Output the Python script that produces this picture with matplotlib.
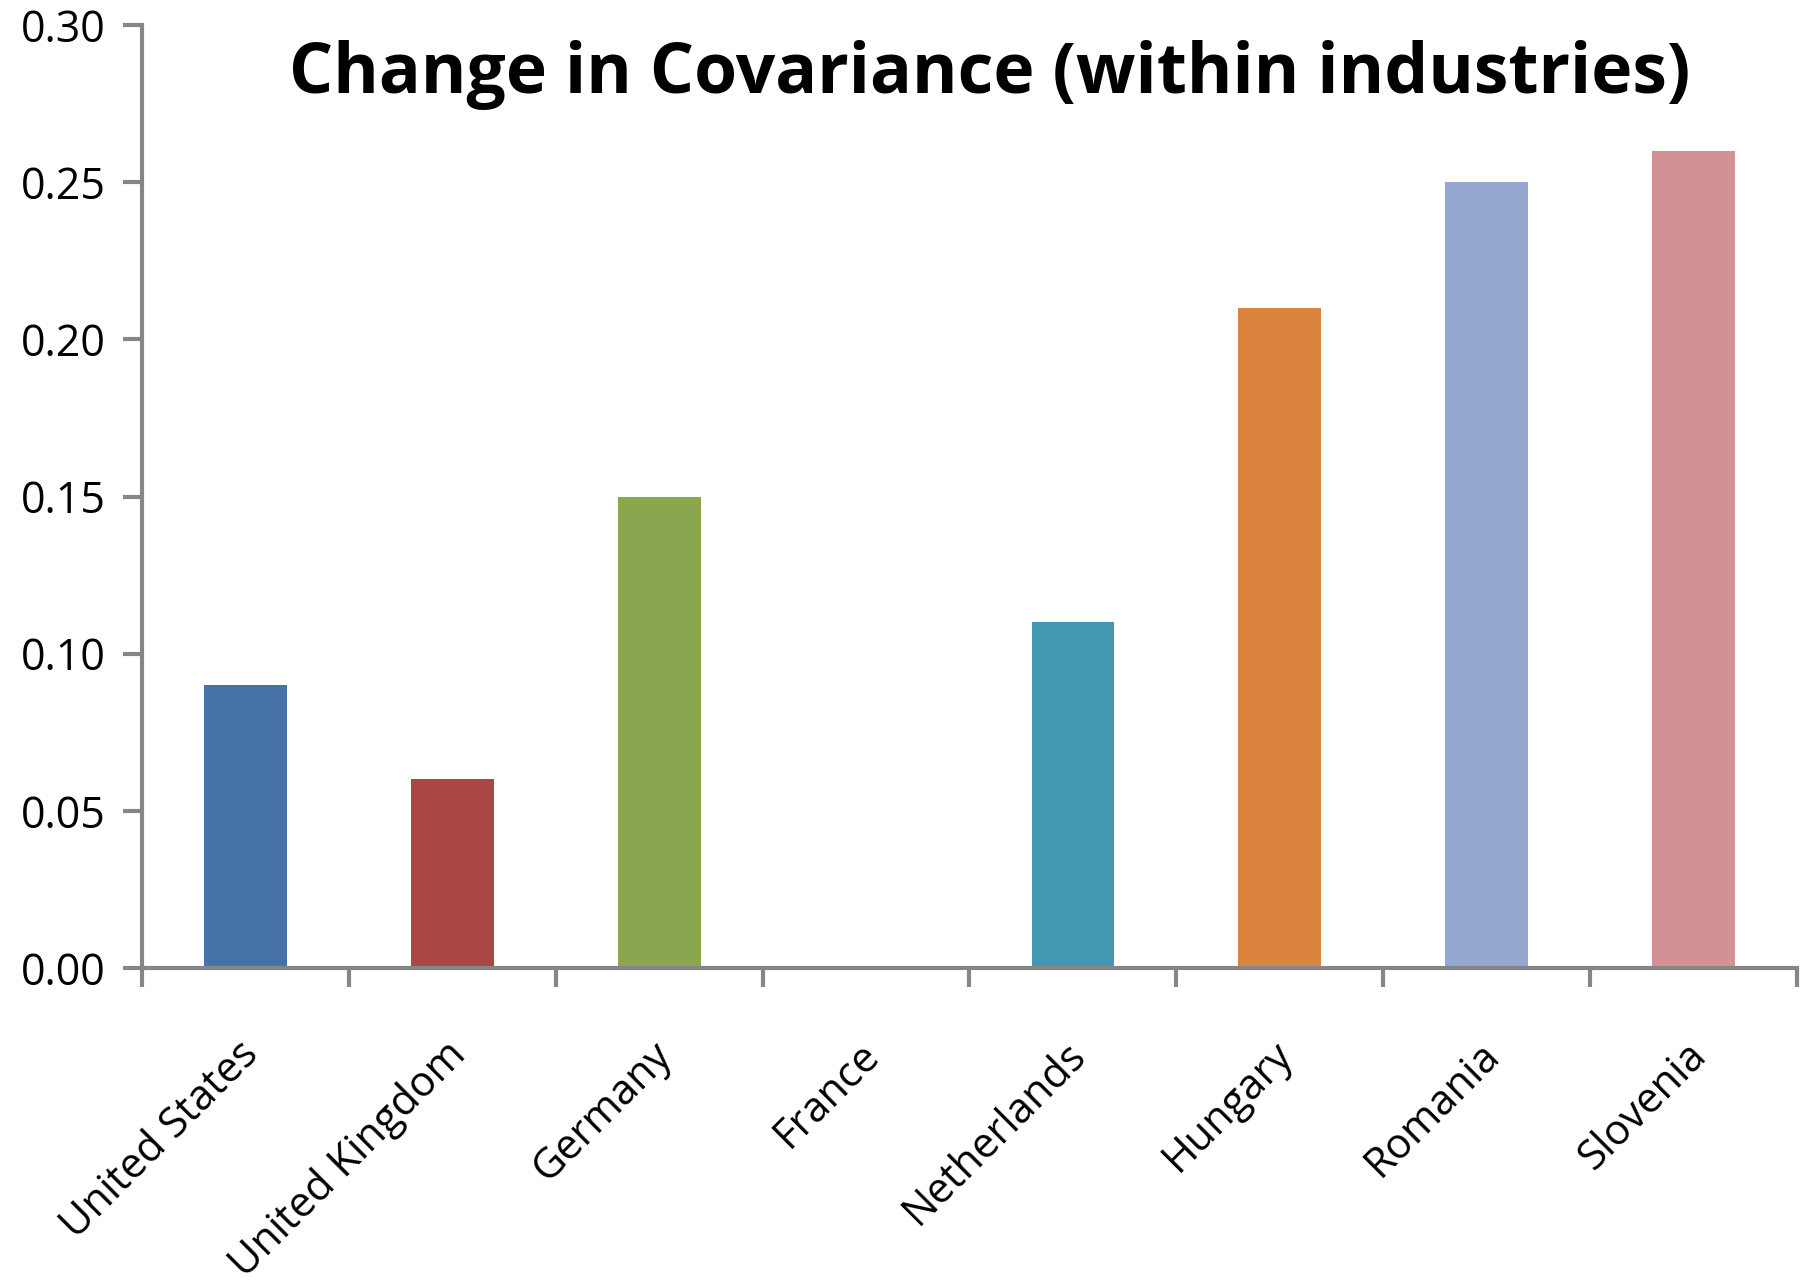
import matplotlib
matplotlib.use("Agg")
from matplotlib import pyplot as plt
from matplotlib.transforms import ScaledTranslation
import numpy as np

countries = ["United States", "United Kingdom", "Germany", "France",
             "Netherlands", "Hungary", "Romania", "Slovenia"]
values = [0.09, 0.06, 0.15, 0.0, 0.11, 0.21, 0.25, 0.26]
colors = ["#4672A8", "#AA4744", "#8AA64E", "#7C6497",
          "#4399B1", "#DB843E", "#95A9D0", "#D29192"]
yticks = [0.00, 0.05, 0.10, 0.15, 0.20, 0.25, 0.30]

plt.rcParams['font.family'] = ['Open Sans', 'DejaVu Sans']
gray = "#868686"

fig = plt.figure(figsize=(18.16, 12.83), dpi=100)
ax = fig.add_axes([0.0782, 0.2455, 0.9113, 0.735])

x = np.arange(len(countries))
ax.bar(x, values, width=0.40, color=colors)

ax.set_xlim(-0.5, len(countries) - 0.5)
ax.set_ylim(0, 0.30)
ax.set_yticks(yticks)
ax.set_yticklabels(["%.2f" % v for v in yticks], fontsize=31)

ax.set_xticks(x)
ax.set_xticklabels(countries, fontsize=30, rotation=45, ha='right',
                   va='center', rotation_mode='anchor')
ax.set_xticks(np.arange(-0.5, len(countries)), minor=True)
ax.tick_params(axis='x', which='major', length=0, pad=58)
ax.tick_params(axis='x', which='minor', length=14, width=3, color=gray)
ax.tick_params(axis='y', length=14, width=3, color=gray, pad=12)

# nudge the rotated labels a little to the right
shift = ScaledTranslation(0.07, 0, fig.dpi_scale_trans)
for lbl in ax.get_xticklabels():
    lbl.set_transform(lbl.get_transform() + shift)

for s in ['top', 'right']:
    ax.spines[s].set_visible(False)
for s in ['left', 'bottom']:
    ax.spines[s].set_color(gray)
    ax.spines[s].set_linewidth(3)

ax.text(0.512, 0.928, "Change in Covariance (within industries)",
        transform=ax.transAxes, ha='center', va='baseline',
        fontsize=50, fontweight='bold')

fig.savefig("out.png", dpi=100)
